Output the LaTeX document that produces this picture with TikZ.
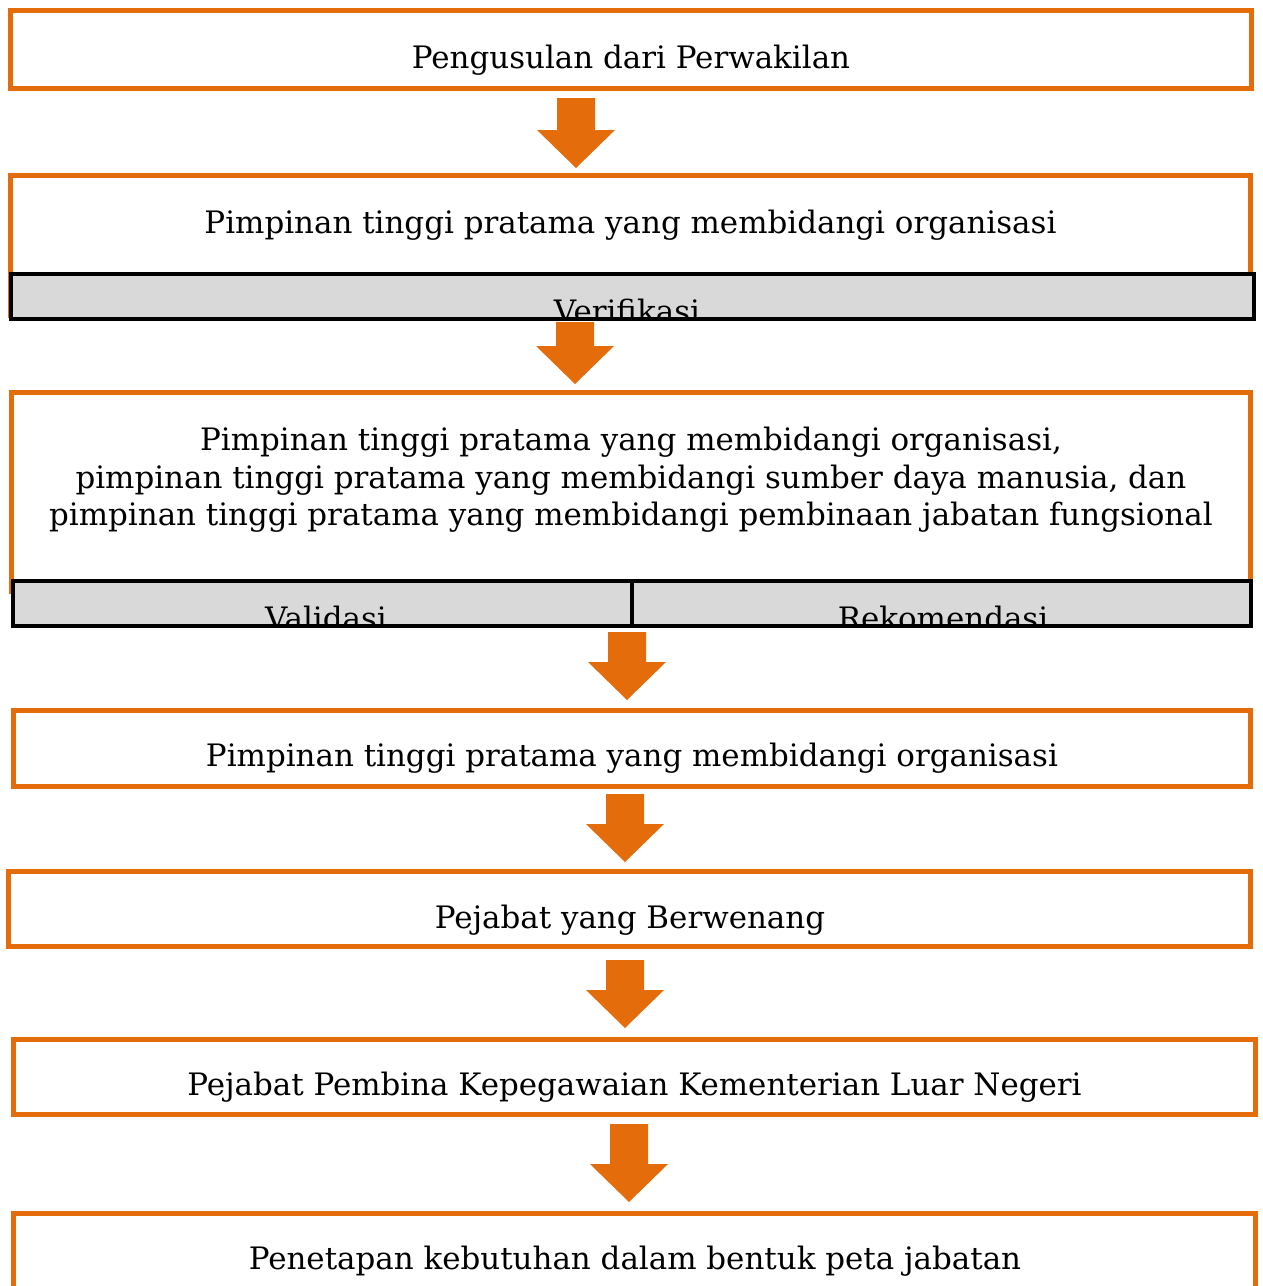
\documentclass[tikz,border=0pt]{standalone}
\usepackage{fontspec}
\setmainfont{DejaVu Serif}
\usetikzlibrary{shapes,arrows}
\definecolor{oranye}{HTML}{E46C0A}
\definecolor{abu}{HTML}{D9D9D9}
\tikzstyle{kotak} = [rectangle, draw=oranye, line width=2.8pt, inner sep=0pt]
\tikzstyle{pita} = [rectangle, draw=black, fill=abu, line width=2pt, inner sep=0pt, minimum height=0.9cm]
\tikzstyle{teks} = [font=\fontsize{17.6}{21.3}\selectfont, inner sep=0pt, align=center]
% block arrow: x of centre, y of top, y of tip
\newcommand{\panah}[3]{\fill[oranye] (#1-19,#2) -- (#1+19,#2) -- (#1+19,#3-38) -- (#1+39,#3-38) -- (#1,#3) -- (#1-39,#3-38) -- (#1-19,#3-38) -- cycle;}
% text cut off at the lower edge of a bar
\newcommand{\teksbar}[3]{\begin{scope}
    \clip ([shift={(1pt,1pt)}]#1.south west) rectangle ([shift={(-1pt,-1pt)}]#1.north east);
    \node[teks, anchor=base] at (#2,629) {#3};
  \end{scope}}

\begin{document}
\begin{tikzpicture}[x=0.02cm, y=-0.02cm]
        \useasboundingbox (0,0) rectangle (1263,1286);
        \node (b1) [kotak, minimum width=24.82cm, minimum height=1.56cm] at (631,49.5) {};
        \node (t1) [teks] at (631,60) {Pengusulan dari Perwakilan};
        \panah{576}{98}{168}
        \node (b2) [kotak, minimum width=24.8cm, minimum height=2.81cm] at (630.5,245.75) {};
        \node (t2) [teks] at (630.5,225) {Pimpinan tinggi pratama yang membidangi organisasi};
        \node (verif) [pita, minimum width=24.86cm] at (632.5,296.5) {};
        \begin{scope}
            \clip ([shift={(1pt,1pt)}]verif.south west) rectangle ([shift={(-1pt,-1pt)}]verif.north east);
            \node[teks, anchor=base] at (627,322) {Verifikasi};
        \end{scope}
        \panah{575}{322}{384}
        \node (b3) [kotak, minimum width=24.78cm, minimum height=3.99cm] at (631,492.25) {};
        \node (t3) [teks] at (631,480) {Pimpinan tinggi pratama yang membidangi organisasi,\\
        pimpinan tinggi pratama yang membidangi sumber daya manusia, dan\\
        pimpinan tinggi pratama yang membidangi pembinaan jabatan fungsional};
        \node (valid) [pita, minimum width=12.38cm] at (322.5,603.5) {};
        \node (rekom) [pita, minimum width=12.38cm] at (941.5,603.5) {};
        \teksbar{valid}{326}{Validasi}
        \teksbar{rekom}{943}{Rekomendasi}
        \panah{627}{632}{700}
        \node (b4) [kotak, minimum width=24.74cm, minimum height=1.52cm] at (632,748.5) {};
        \node (t4) [teks] at (632,758) {Pimpinan tinggi pratama yang membidangi organisasi};
        \panah{625}{794}{862}
        \node (b5) [kotak, minimum width=24.84cm, minimum height=1.5cm] at (629.5,909) {};
        \node (t5) [teks] at (630,920) {Pejabat yang Berwenang};
        \panah{625}{960}{1028}
        \node (b6) [kotak, minimum width=24.84cm, minimum height=1.5cm] at (634.5,1077) {};
        \node (t6) [teks] at (634.5,1087) {Pejabat Pembina Kepegawaian Kementerian Luar Negeri};
        \panah{629}{1124}{1202}
        \node (b7) [kotak, minimum width=24.84cm, minimum height=1.65cm] at (634.5,1254.75) {};
        \node (t7) [teks] at (635,1261) {Penetapan kebutuhan dalam bentuk peta jabatan};
    \end{tikzpicture}
\end{document}
